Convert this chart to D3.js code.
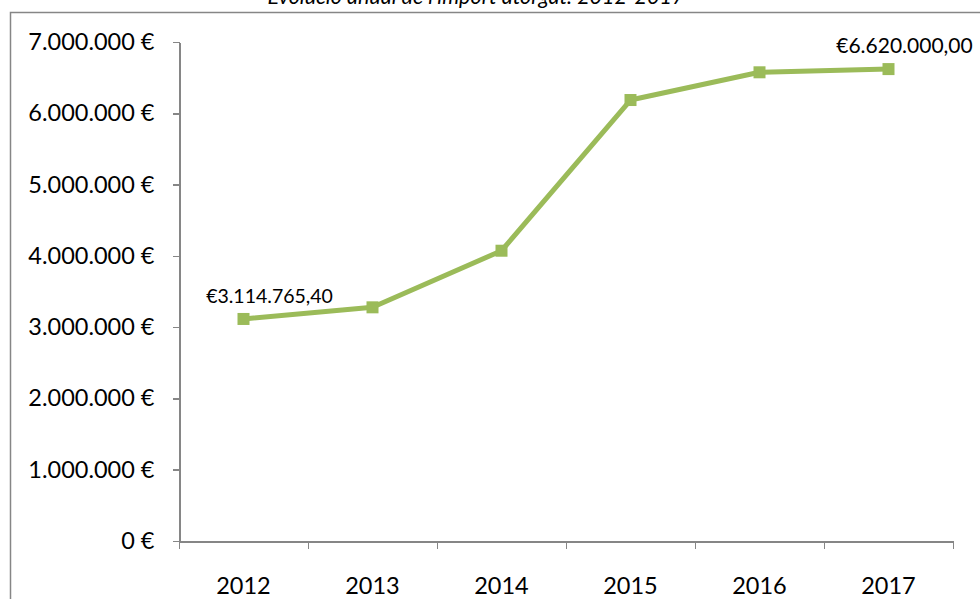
<!DOCTYPE html>
<html>
<head>
<meta charset="utf-8">
<script src="https://cdn.jsdelivr.net/npm/d3@7"></script>
<style>
    html, body { margin: 0; padding: 0; background: #fff; }
    svg { display: block; }
    .axis path, .axis line { stroke: #868686; stroke-width: 1.5; shape-rendering: crispEdges; }
    .axis text { font-family: Lato, sans-serif; font-size: 23.5px; fill: #000; }
</style>
</head>
<body>
<div id="chart"></div>
<script>
(function() {
    'use strict';

    // data
    var years = ['2012', '2013', '2014', '2015', '2016', '2017'];
    var amounts = [3114765.40, 3278000, 4072000, 6186000, 6575000, 6620000];
    var yTicks = [0, 1000000, 2000000, 3000000, 4000000, 5000000, 6000000, 7000000];
    var labelled = [0, 5];   // indexes with a data label
    var title = "Evolució anual de l'import atorgat. 2012-2017";

    var width = 980, height = 599;
    var margin = {left: 179, right: 27, top: 42, bottom: 58};

    var svg = d3.select('#chart').append('svg')
        .attr('width', width)
        .attr('height', height);

    // frame of the chart area (left and top edges only are visible)
    svg.append('path')
        .attr('d', 'M10.5,' + height + 'V12.5H' + width)
        .attr('fill', 'none')
        .attr('stroke', '#868686')
        .attr('stroke-width', 1.5);

    svg.append('text')
        .attr('x', 476)
        .attr('y', 4)
        .attr('text-anchor', 'middle')
        .style('font-family', 'Lato, sans-serif')
        .style('font-style', 'italic')
        .style('font-size', '21.5px')
        .text(title);

    var x = d3.scaleBand().domain(years)
        .range([margin.left, width - margin.right]);
    var y = d3.scaleLinear().domain([0, 7000000])
        .range([height - margin.bottom, margin.top]);

    var fmtEur = function(v) {
        return d3.format(',')(v).replace(/,/g, '.') + ' €';
    };

    svg.append('g').attr('class', 'axis')
        .attr('transform', 'translate(' + (margin.left + 0.5) + ',0)')
        .call(d3.axisLeft(y).tickValues(yTicks).tickFormat(fmtEur)
            .tickSize(7).tickSizeOuter(0).tickPadding(18));

    var xAxis = svg.append('g').attr('class', 'axis')
        .attr('transform', 'translate(0,' + (y(0) + 0.5) + ')')
        .call(d3.axisBottom(x).tickSize(0).tickSizeOuter(0).tickPadding(36));

    // ticks between categories
    var bounds = years.map(function(d) { return x(d); }).concat([x.range()[1]]);
    xAxis.selectAll('.sep').data(bounds)
        .enter().append('line')
        .attr('class', 'sep')
        .attr('x1', function(d) { return Math.round(d) + 0.5; })
        .attr('x2', function(d) { return Math.round(d) + 0.5; })
        .attr('y1', 0).attr('y2', 7);

    var cx = function(i) { return x(years[i]) + x.bandwidth() / 2; };

    var line = d3.line()
        .x(function(d, i) { return cx(i); })
        .y(function(d) { return y(d); });

    svg.append('path')
        .datum(amounts)
        .attr('d', line)
        .attr('fill', 'none')
        .attr('stroke', '#9bbb59')
        .attr('stroke-width', 5)
        .attr('stroke-linejoin', 'round');

    svg.selectAll('.marker').data(amounts)
        .enter().append('rect')
        .attr('class', 'marker')
        .attr('x', function(d, i) { return cx(i) - 6; })
        .attr('y', function(d) { return y(d) - 6; })
        .attr('width', 12).attr('height', 12)
        .attr('fill', '#9bbb59');

    var fmtLabel = function(v) {
        return '€' + d3.format(',.2f')(v).replace(/,/g, ' ').replace('.', ',').replace(/ /g, '.');
    };

    svg.selectAll('.dlabel').data(labelled)
        .enter().append('text')
        .attr('class', 'dlabel')
        .attr('x', function(i) { return cx(i) + (i === 0 ? 26 : 16); })
        .attr('y', function(i) { return y(amounts[i]) - 16; })
        .attr('text-anchor', 'middle')
        .style('font-family', 'Lato, sans-serif')
        .style('font-size', function(i) { return i === 0 ? '19.5px' : '21px'; })
        .text(function(i) { return fmtLabel(amounts[i]); });
})();
</script>
</body>
</html>
